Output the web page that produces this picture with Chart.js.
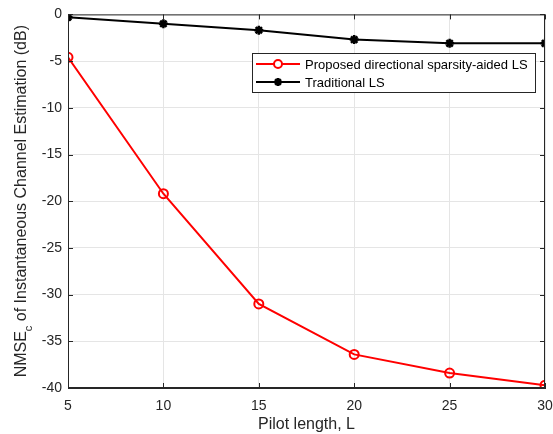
<!DOCTYPE html>
<html>
<head>
<meta charset="utf-8">
<script src="https://cdn.jsdelivr.net/npm/chart.js@4/dist/chart.umd.min.js"></script>
<style>
  html, body { margin: 0; padding: 0; background: #fff; }
  #wrap { width: 553px; height: 434px; }
</style>
</head>
<body>
<div id="wrap"><canvas id="nmse"></canvas></div>
<script>
// pilot length L
var pilotLen = [5, 10, 15, 20, 25, 30];
// NMSE_c (dB)
var proposedLS = [-4.6, -19.2, -31.0, -36.4, -38.4, -39.7];
var traditionalLS = [-0.3, -1.0, -1.7, -2.7, -3.1, -3.1];
var seriesNames = ['Proposed directional sparsity-aided LS', 'Traditional LS'];
var xTicks = [5, 10, 15, 20, 25, 30];
var yTicks = [0, -5, -10, -15, -20, -25, -30, -35, -40];

var FONT = '"Liberation Sans", Arial, Helvetica, sans-serif';

function toPts(xs, ys) {
    let out = [];
    for (let i = 0; i < xs.length; i++) {
        out.push({ x: xs[i], y: ys[i] });
    }
    return out;
}

// matlab style box, inward ticks, y title with subscript, legend
var matlabBits = {
    id: 'matlabBits',
    afterDraw: function(chart) {
        let ctx = chart.ctx;
        let a = chart.chartArea;
        let xs = chart.scales.x, ys = chart.scales.y;
        ctx.save();

        // box
        ctx.strokeStyle = '#262626';
        ctx.lineWidth = 1;
        ctx.strokeRect(a.left + 0.5, a.top + 0.5, a.right - a.left - 1, a.bottom - a.top - 1);

        // inward ticks
        ctx.beginPath();
        for (let i = 0; i < xTicks.length; i++) {
            let px = Math.round(xs.getPixelForValue(xTicks[i])) + 0.5;
            ctx.moveTo(px, a.bottom); ctx.lineTo(px, a.bottom - 5);
            ctx.moveTo(px, a.top); ctx.lineTo(px, a.top + 5);
        }
        for (let i = 0; i < yTicks.length; i++) {
            let py = Math.round(ys.getPixelForValue(yTicks[i])) + 0.5;
            ctx.moveTo(a.left, py); ctx.lineTo(a.left + 5, py);
            ctx.moveTo(a.right, py); ctx.lineTo(a.right - 5, py);
        }
        ctx.stroke();

        // y title
        ctx.fillStyle = '#262626';
        ctx.translate(26, (a.top + a.bottom) / 2);
        ctx.rotate(-Math.PI / 2);
        ctx.textBaseline = 'alphabetic';
        let big = '16px ' + FONT, small = '11px ' + FONT;
        let p1 = 'NMSE', p2 = 'c', p3 = ' of Instantaneous Channel Estimation (dB)';
        ctx.font = big;
        let w1 = ctx.measureText(p1).width, w3 = ctx.measureText(p3).width;
        ctx.font = small;
        let w2 = ctx.measureText(p2).width;
        let x0 = -(w1 + w2 + w3) / 2;
        ctx.font = big;
        ctx.textAlign = 'left';
        ctx.fillText(p1, x0, 0);
        ctx.font = small;
        ctx.fillText(p2, x0 + w1, 6);
        ctx.font = big;
        ctx.fillText(p3, x0 + w1 + w2, 0);
        ctx.setTransform(1, 0, 0, 1, 0, 0);

        // legend
        let lx = 252, ly = 53, lw = 283, lh = 39;
        ctx.fillStyle = '#fff';
        ctx.fillRect(lx, ly, lw, lh);
        ctx.strokeStyle = '#262626';
        ctx.lineWidth = 1;
        ctx.strokeRect(lx + 0.5, ly + 0.5, lw, lh);
        let rows = [ly + 11, ly + 29];
        let cols = ['#ff0000', '#000000'];
        for (let i = 0; i < 2; i++) {
            ctx.strokeStyle = cols[i];
            ctx.lineWidth = 2;
            ctx.beginPath();
            ctx.moveTo(lx + 4, rows[i]); ctx.lineTo(lx + 48, rows[i]);
            ctx.stroke();
            let cx = lx + 26;
            if (i == 0) {
                ctx.fillStyle = '#fff';
                ctx.beginPath();
                ctx.arc(cx, rows[i], 4, 0, Math.PI * 2);
                ctx.fill();
                ctx.stroke();
            } else {
                ctx.lineWidth = 2.5;
                ctx.beginPath();
                for (let k = 0; k < 4; k++) {
                    let ang = k * Math.PI / 4;
                    ctx.moveTo(cx - 4 * Math.cos(ang), rows[i] - 4 * Math.sin(ang));
                    ctx.lineTo(cx + 4 * Math.cos(ang), rows[i] + 4 * Math.sin(ang));
                }
                ctx.stroke();
            }
            ctx.fillStyle = '#000';
            ctx.font = '13px ' + FONT;
            ctx.textBaseline = 'middle';
            ctx.fillText(seriesNames[i], lx + 53, rows[i] + 1);
        }
        ctx.restore();
    }
};

var ctx = document.getElementById('nmse').getContext('2d');
var chart = new Chart(ctx, {
    type: 'line',
    data: {
        datasets: [{
            label: seriesNames[0],
            data: toPts(pilotLen, proposedLS),
            borderColor: '#ff0000',
            backgroundColor: '#ffffff',
            borderWidth: 2,
            pointStyle: 'circle',
            pointRadius: 4.5,
            pointBorderWidth: 2,
            pointBorderColor: '#ff0000',
            pointBackgroundColor: 'rgba(255,255,255,0)',
            tension: 0
        }, {
            label: seriesNames[1],
            data: toPts(pilotLen, traditionalLS),
            borderColor: '#000000',
            backgroundColor: '#000000',
            borderWidth: 2,
            pointStyle: 'star',
            pointRadius: 4.5,
            pointBorderWidth: 2.5,
            pointBorderColor: '#000000',
            tension: 0
        }]
    },
    options: {
        responsive: true,
        maintainAspectRatio: false,
        animation: false,
        layout: { padding: { top: 13, right: 0, left: 0, bottom: 0 } },
        plugins: { legend: { display: false }, tooltip: { enabled: false } },
        scales: {
            x: {
                type: 'linear',
                min: 5, max: 30,
                afterFit: function(s) { s.height = 46; s.paddingRight = 8; s.paddingLeft = 0; },
                afterBuildTicks: function(s) { s.ticks = xTicks.map(v => ({ value: v })); },
                ticks: { color: '#262626', font: { family: FONT, size: 14 }, padding: 10, maxRotation: 0 },
                grid: { color: '#e5e5e5', drawTicks: false },
                border: { color: '#262626' },
                title: { display: true, text: 'Pilot length, L', color: '#262626', font: { family: FONT, size: 16 }, padding: { top: 0, bottom: 0 } }
            },
            y: {
                type: 'linear',
                min: -40, max: 0,
                afterFit: function(s) { s.width = 68; },
                afterBuildTicks: function(s) { s.ticks = yTicks.map(v => ({ value: v })); },
                ticks: { color: '#262626', font: { family: FONT, size: 14 }, padding: 6 },
                grid: { color: '#e5e5e5', drawTicks: false },
                border: { color: '#262626' }
            }
        }
    },
    plugins: [matlabBits]
});
</script>
</body>
</html>
